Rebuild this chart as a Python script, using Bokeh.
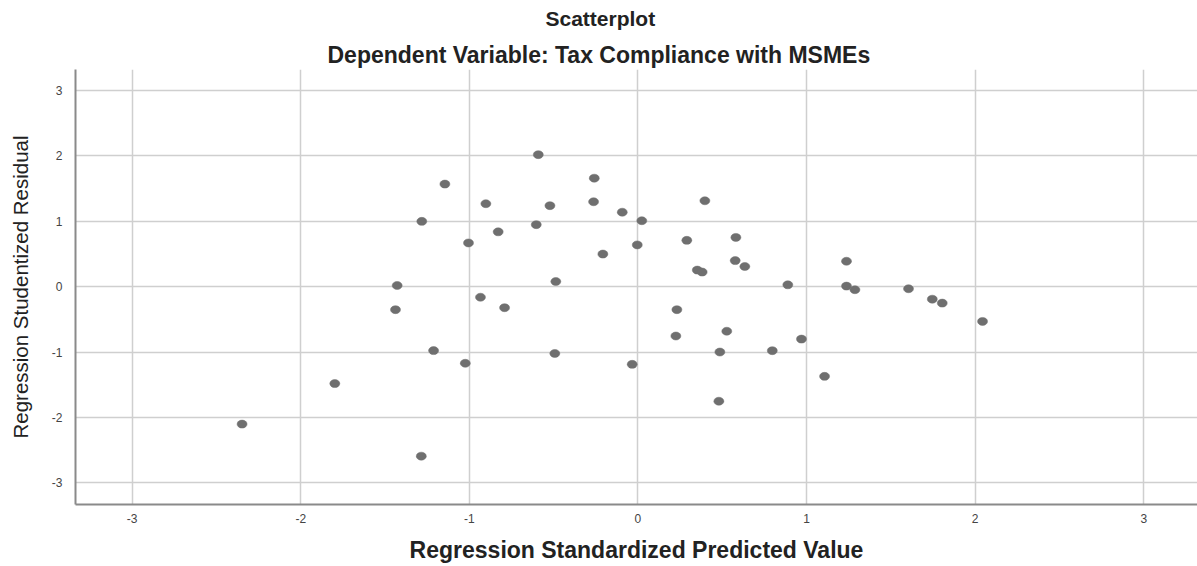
from bokeh.plotting import figure
from bokeh.models import Title, FixedTicker, Range1d, ColumnDataSource
from bokeh.embed import file_html
from bokeh.resources import INLINE

# Regression standardized predicted values (x) and studentized residuals (y)
predicted = [-2.348, -1.798, -1.145, -0.902, -1.282, -0.829, -1.005, -1.428, -0.934, -1.438,
             -0.791, -1.212, -1.024, -1.285, -0.591, -0.259, -0.522, -0.263, -0.093, 0.023,
             0.397, -0.603, 0.290, 0.581, -0.004, -0.208, 0.577, 0.634, 0.352, 0.381,
             -0.487, 0.889, 1.237, 1.237, 0.231, 0.225, 0.527, 0.970, -0.493, 0.486,
             0.797, -0.034, 1.107, 0.480, 1.287, 1.605, 1.746, 1.805, 2.044]
residual = [-2.10, -1.48, 1.57, 1.27, 1.00, 0.84, 0.67, 0.02, -0.16, -0.35,
            -0.32, -0.976, -1.17, -2.59, 2.02, 1.66, 1.24, 1.30, 1.14, 1.01,
            1.315, 0.95, 0.71, 0.755, 0.64, 0.50, 0.40, 0.31, 0.255, 0.225,
            0.08, 0.03, 0.39, 0.01, -0.35, -0.753, -0.68, -0.80, -1.02, -0.998,
            -0.977, -1.186, -1.37, -1.75, -0.045, -0.03, -0.19, -0.25, -0.53]
ticks = [-3, -2, -1, 0, 1, 2, 3]
tick_labels = {t: str(t) for t in ticks}

FONT = "Liberation Sans"

p = figure(width=1197, height=566, output_backend="svg", toolbar_location=None,
           x_range=Range1d(-3.336, 3.319), y_range=Range1d(-3.329, 3.322),
           min_border_left=75, min_border_right=0, min_border_top=0, min_border_bottom=62)
p.outline_line_color = None
p.background_fill_color = "white"
p.border_fill_color = "white"

src = ColumnDataSource(dict(x=predicted, y=residual))
p.ellipse(x="x", y="y", width=10, height=8, width_units="screen", height_units="screen",
          source=src, fill_color="#6f6f6f", line_color="#6f6f6f", line_width=0.5)

for ax in (p.xaxis[0], p.yaxis[0]):
    ax.ticker = FixedTicker(ticks=ticks)
    ax.major_label_overrides = tick_labels
    ax.major_tick_out = 0
    ax.major_tick_in = 0
    ax.minor_tick_out = 0
    ax.minor_tick_in = 0
    ax.axis_line_color = "#8a8a8a"
    ax.axis_line_width = 2
    ax.major_label_text_font = FONT
    ax.major_label_text_font_size = "12px"
    ax.major_label_text_color = "#444444"

p.xaxis.major_label_standoff = 9
p.yaxis.major_label_standoff = 13
p.xaxis.axis_label = "Regression Standardized Predicted Value"
p.xaxis.axis_label_text_font = FONT
p.xaxis.axis_label_text_font_size = "23px"
p.xaxis.axis_label_text_font_style = "bold"
p.xaxis.axis_label_text_color = "#222222"
p.xaxis.axis_label_standoff = 11
p.yaxis.axis_label = "Regression Studentized Residual"
p.yaxis.axis_label_text_font = FONT
p.yaxis.axis_label_text_font_size = "20.5px"
p.yaxis.axis_label_text_font_style = "normal"
p.yaxis.axis_label_text_color = "#222222"
p.yaxis.axis_label_standoff = 17

p.xgrid.ticker = FixedTicker(ticks=ticks)
p.ygrid.ticker = FixedTicker(ticks=ticks)
p.xgrid.grid_line_color = "#cfcfcf"
p.ygrid.grid_line_color = "#cfcfcf"
p.xgrid.grid_line_width = 1.5
p.ygrid.grid_line_width = 1.5

p.add_layout(Title(text="Dependent Variable: Tax Compliance with MSMEs", align="left", offset=252,
                   vertical_align="bottom",
                   text_font=FONT, text_font_size="23px", text_font_style="bold",
                   text_color="#222222", standoff=4), "above")
p.add_layout(Title(text="Scatterplot", align="left", offset=470, vertical_align="top",
                   text_font=FONT, text_font_size="21px", text_font_style="bold",
                   text_color="#222222", standoff=12), "above")

open("out.html", "w").write(file_html(p, INLINE))
